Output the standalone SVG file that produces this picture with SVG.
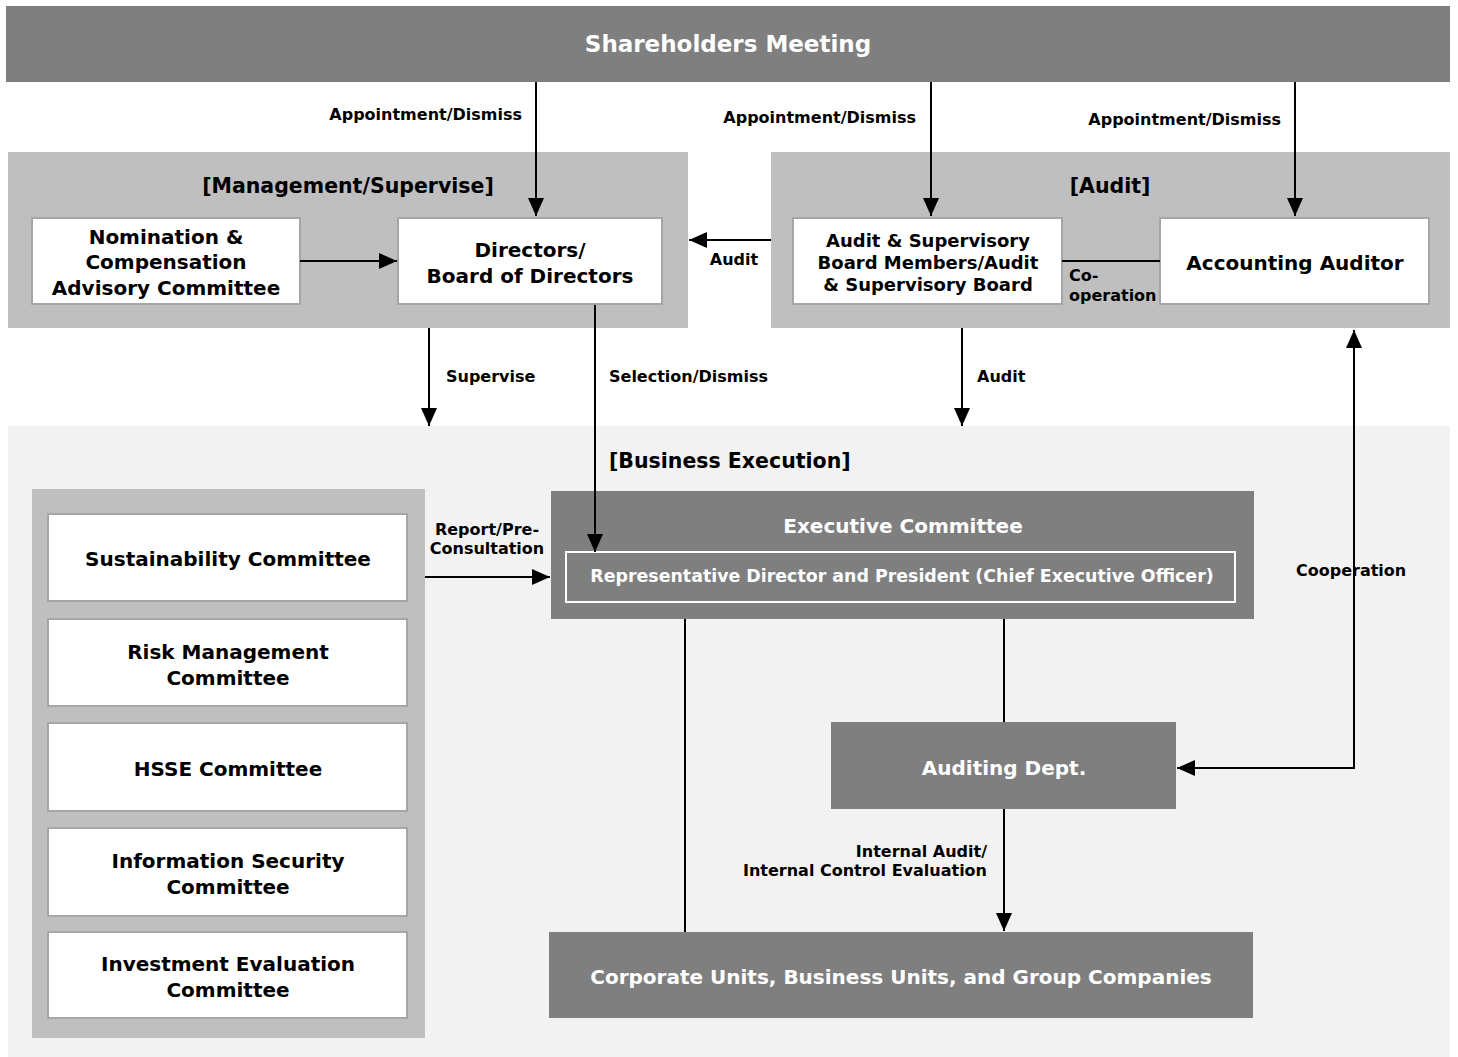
<svg xmlns="http://www.w3.org/2000/svg" width="1458" height="1057" viewBox="0 0 1458 1057">
<defs>
<marker id="ah" viewBox="0 0 18 16" refX="18" refY="8" markerWidth="18" markerHeight="16" markerUnits="userSpaceOnUse" orient="auto-start-reverse"><path d="M0,0 L18,8 L0,16 z" fill="#000"/></marker>
<style>
text{font-family:"DejaVu Sans","Liberation Sans",sans-serif;font-weight:bold}
.dark{fill:#7f7f7f}
.panel{fill:#bfbfbf}
.wbox{fill:#fff;stroke:#a6a6a6;stroke-width:2}
.w{fill:#fff}
.k{fill:#000}
.c{text-anchor:middle}
.e{text-anchor:end}
.lbl{font-size:16px}
.big{font-size:20px}
.ln{stroke:#000;stroke-width:2;fill:none}
</style>
</defs>
<rect width="1458" height="1057" fill="#fff"/>

<g id="shareholders">
<rect class="dark" x="6" y="6" width="1444" height="76"/>
<text class="w c" x="728" y="52" font-size="23">Shareholders Meeting</text>
</g>

<g id="management-panel">
<rect class="panel" x="8" y="152" width="680" height="176"/>
<text class="k c" x="348" y="193" font-size="20.5">[Management/Supervise]</text>
</g>
<g id="nomination">
<rect class="wbox" x="32" y="218" width="268" height="86"/>
<text class="k c big" x="166" y="244">Nomination &amp;</text>
<text class="k c big" x="166" y="269">Compensation</text>
<text class="k c big" x="166" y="295">Advisory Committee</text>
</g>
<g id="directors">
<rect class="wbox" x="398" y="218" width="264" height="86"/>
<text class="k c big" x="530" y="257">Directors/</text>
<text class="k c big" x="530" y="283">Board of Directors</text>
</g>

<g id="audit-panel">
<rect class="panel" x="771" y="152" width="679" height="176"/>
<text class="k c" x="1110" y="193" font-size="20.5">[Audit]</text>
</g>
<g id="audit-board">
<rect class="wbox" x="793" y="218" width="269" height="86"/>
<text class="k c" x="928" y="247" font-size="18">Audit &amp; Supervisory</text>
<text class="k c" x="928" y="269" font-size="18">Board Members/Audit</text>
<text class="k c" x="928" y="291" font-size="18">&amp; Supervisory Board</text>
</g>
<g id="accounting-auditor">
<rect class="wbox" x="1160" y="218" width="269" height="86"/>
<text class="k c big" x="1295" y="270">Accounting Auditor</text>
</g>

<g id="business-panel">
<rect x="8" y="426" width="1442" height="631" fill="#f2f2f2"/>
<text class="k" x="609" y="468" font-size="20.5">[Business Execution]</text>
</g>

<g id="committees-panel">
<rect class="panel" x="32" y="489" width="393" height="549"/>
</g>
<g id="sustainability">
<rect class="wbox" x="48" y="514" width="359" height="87"/>
<text class="k c big" x="228" y="566">Sustainability Committee</text>
</g>
<g id="risk">
<rect class="wbox" x="48" y="619" width="359" height="87"/>
<text class="k c big" x="228" y="659">Risk Management</text>
<text class="k c big" x="228" y="685">Committee</text>
</g>
<g id="hsse">
<rect class="wbox" x="48" y="723" width="359" height="88"/>
<text class="k c big" x="228" y="776">HSSE Committee</text>
</g>
<g id="infosec">
<rect class="wbox" x="48" y="828" width="359" height="88"/>
<text class="k c big" x="228" y="868">Information Security</text>
<text class="k c big" x="228" y="894">Committee</text>
</g>
<g id="investment">
<rect class="wbox" x="48" y="932" width="359" height="86"/>
<text class="k c big" x="228" y="971">Investment Evaluation</text>
<text class="k c big" x="228" y="997">Committee</text>
</g>

<g id="executive-committee">
<rect class="dark" x="551" y="491" width="703" height="128"/>
<text class="w c big" x="903" y="533">Executive Committee</text>
<rect x="566" y="552" width="669" height="50" fill="none" stroke="#fff" stroke-width="2"/>
<text class="w c" x="902" y="582" font-size="17.4">Representative Director and President (Chief Executive Officer)</text>
</g>

<g id="auditing-dept">
<rect class="dark" x="831" y="722" width="345" height="87"/>
<text class="w c big" x="1004" y="775">Auditing Dept.</text>
</g>

<g id="corporate-units">
<rect class="dark" x="549" y="932" width="704" height="86"/>
<text class="w c big" x="901" y="984">Corporate Units, Business Units, and Group Companies</text>
</g>

<g id="connectors">
<line class="ln" x1="536" y1="82" x2="536" y2="216" marker-end="url(#ah)"/>
<line class="ln" x1="931" y1="82" x2="931" y2="216" marker-end="url(#ah)"/>
<line class="ln" x1="1295" y1="82" x2="1295" y2="216" marker-end="url(#ah)"/>
<line class="ln" x1="300" y1="261" x2="397" y2="261" marker-end="url(#ah)"/>
<line class="ln" x1="771" y1="240" x2="689" y2="240" marker-end="url(#ah)"/>
<line class="ln" x1="1062" y1="261" x2="1160" y2="261"/>
<line class="ln" x1="429" y1="328" x2="429" y2="426" marker-end="url(#ah)"/>
<line class="ln" x1="595" y1="305" x2="595" y2="552" marker-end="url(#ah)"/>
<line class="ln" x1="962" y1="328" x2="962" y2="426" marker-end="url(#ah)"/>
<line class="ln" x1="425" y1="577" x2="550" y2="577" marker-end="url(#ah)"/>
<line class="ln" x1="685" y1="619" x2="685" y2="932"/>
<line class="ln" x1="1004" y1="619" x2="1004" y2="722"/>
<line class="ln" x1="1004" y1="809" x2="1004" y2="931" marker-end="url(#ah)"/>
<path class="ln" d="M1354,330 L1354,768 L1177,768" marker-start="url(#ah)" marker-end="url(#ah)"/>

<text class="k e lbl" x="522" y="120">Appointment/Dismiss</text>
<text class="k e lbl" x="916" y="123">Appointment/Dismiss</text>
<text class="k e lbl" x="1281" y="125">Appointment/Dismiss</text>
<text class="k c lbl" x="734" y="265">Audit</text>
<text class="k lbl" x="1069" y="281">Co-</text>
<text class="k lbl" x="1069" y="301" font-size="15.5">operation</text>
<text class="k lbl" x="446" y="382">Supervise</text>
<text class="k lbl" x="609" y="382">Selection/Dismiss</text>
<text class="k lbl" x="977" y="382">Audit</text>
<text class="k c lbl" x="487" y="535">Report/Pre-</text>
<text class="k c lbl" x="487" y="554">Consultation</text>
<text class="k lbl" x="1296" y="576">Cooperation</text>
<text class="k e lbl" x="987" y="857">Internal Audit/</text>
<text class="k e lbl" x="987" y="876" font-size="15.5">Internal Control Evaluation</text>
</g>
</svg>
